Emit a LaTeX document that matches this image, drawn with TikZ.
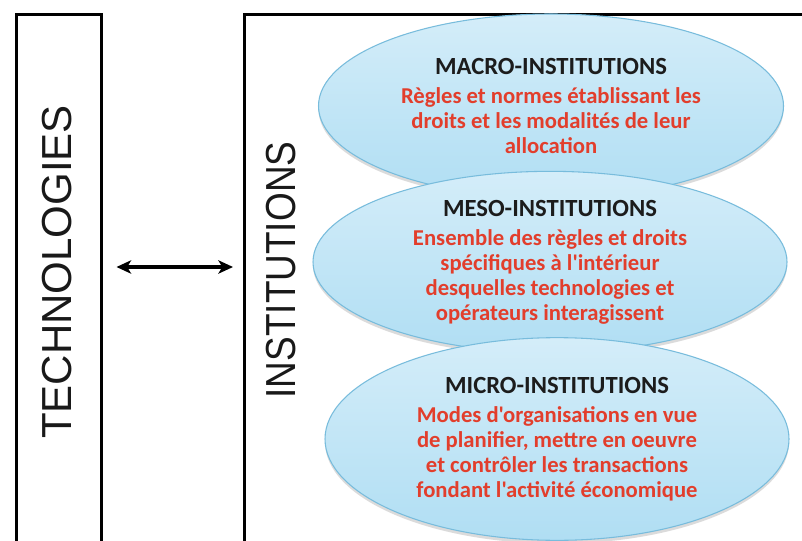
\documentclass[tikz,border=0pt]{standalone}
\usepackage{fontspec}
\setmainfont{Liberation Sans}
\newfontfamily\ellfont{Carlito}
\usetikzlibrary{arrows.meta,shapes.geometric,shadows}

\definecolor{ellfillA}{RGB}{212,237,249}
\definecolor{ellfillB}{RGB}{176,222,243}
\definecolor{elledge}{RGB}{120,188,220}
\definecolor{bodyred}{RGB}{226,62,44}
\definecolor{headblack}{RGB}{28,28,28}

\tikzset{
  frame/.style={draw=black, line width=2.6pt, rectangle, anchor=north west, inner sep=0pt},
  biglabel/.style={rotate=90, font=\fontsize{31.5}{36}\selectfont, text=black!90},
  level/.style={ellipse, draw=elledge, line width=0.8pt,
    top color=ellfillA, bottom color=ellfillB,
    drop shadow={opacity=0.28, shadow xshift=0pt, shadow yshift=-2.5pt},
    inner sep=0pt, align=center, text=bodyred,
    font=\ellfont\bfseries\fontsize{17}{18.8}\selectfont},
  link/.style={line width=2.3pt, {Stealth[length=11pt,width=10pt,inset=3pt]}-{Stealth[length=11pt,width=10pt,inset=3pt]}}
}
\newcommand{\lvlhead}[1]{{\fontsize{18.5}{20}\selectfont\textcolor{headblack}{#1}}\\[3pt]}

\begin{document}
\begin{tikzpicture}[x=0.75pt, y=-0.75pt]
  \useasboundingbox (0,0) rectangle (802,541);
  \clip (0,0) rectangle (802,541);
  \fill[white] (0,0) rectangle (802,541);

  % the two columns, open towards the bottom and the right
  \node[frame, minimum width=63.75pt, minimum height=450pt] (techbox) at (15,13) {};
  \node[frame, minimum width=500pt, minimum height=450pt] (instbox) at (243,13) {};

  \node[biglabel] (techlabel) at (57,272) {TECHNOLOGIES};
  \node[biglabel] (instlabel) at (281,270) {\scalebox{0.88}[1]{INSTITUTIONS}};

  % interaction between technologies and institutions
  \coordinate (arrowrow) at (0,267);
  \draw[link, shorten <=9.75pt, shorten >=7.5pt]
    (techbox.east |- arrowrow) -- (instbox.west |- arrowrow);

  % the three institutional levels
  \node[level, minimum width=348.75pt, minimum height=138pt] (macro) at (551,106)
    {\lvlhead{MACRO-INSTITUTIONS}Règles et normes établissant les\\droits et les modalités de leur\\allocation};
  \node[level, minimum width=355.5pt, minimum height=136pt] (meso) at (550,262)
    {\lvlhead{MESO-INSTITUTIONS}Ensemble des règles et droits\\spécifiques à l'intérieur\\desquelles technologies et\\opérateurs interagissent};
  \node[level, minimum width=348pt, minimum height=152pt] (micro) at (557,439)
    {\lvlhead{MICRO-INSTITUTIONS}Modes d'organisations en vue\\de planifier, mettre en oeuvre\\et contrôler les transactions\\fondant l'activité économique};
\end{tikzpicture}
\end{document}
